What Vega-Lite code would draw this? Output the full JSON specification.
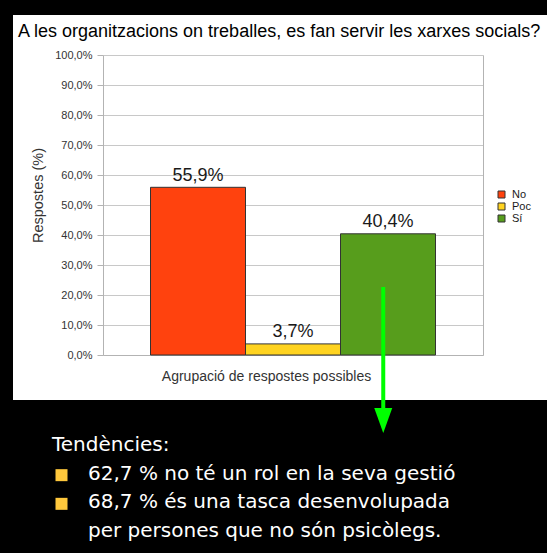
{
  "$schema": "https://vega.github.io/schema/vega-lite/v6.json",
  "background": "black",
  "padding": {"left": 13, "top": 15, "right": 0, "bottom": 0},
  "spacing": 0,
  "bounds": "flush",
  "config": {
    "view": {"stroke": null},
    "font": "Liberation Sans",
    "locale": {"number": {"decimal": ",", "thousands": ".", "grouping": [3], "currency": ["", " €"]}}
  },
  "vconcat": [
    {
      "width": 534,
      "height": 385,
      "view": {"fill": "white", "stroke": null},
      "title": {
        "text": "A les organitzacions on treballes, es fan servir les xarxes socials?",
        "anchor": "start",
        "frame": "group",
        "orient": "top",
        "offset": 0,
        "dx": 5,
        "dy": 40,
        "baseline": "alphabetic",
        "font": "Liberation Sans",
        "fontSize": 18,
        "fontWeight": "normal",
        "color": "#000000"
      },
      "data": {"values": [
        {"resposta": "No", "percentatge": 0.559},
        {"resposta": "Poc", "percentatge": 0.037},
        {"resposta": "Sí", "percentatge": 0.404}
      ]},
      "encoding": {
        "x": {
          "field": "resposta", "type": "nominal", "sort": ["No", "Poc", "Sí"],
          "scale": {"range": [90, 470], "paddingInner": 0, "paddingOuter": 0.5},
          "axis": {
            "orient": "bottom", "offset": -45, "labels": false, "ticks": false, "grid": false,
            "domain": true, "domainColor": "#b3b3b3",
            "title": "Agrupació de respostes possibles", "titleFontSize": 14, "titleFontWeight": "normal",
            "titleColor": "#333333", "titleX": 253, "titleY": 25, "titleAlign": "center", "titleBaseline": "alphabetic"
          }
        }
      },
      "layer": [
        {
          "mark": {"type": "bar", "stroke": "#333333", "strokeWidth": 1},
          "encoding": {
            "y": {
              "field": "percentatge", "type": "quantitative",
              "scale": {"domain": [0, 1], "range": [340, 40], "nice": false},
              "axis": {
                "orient": "left", "offset": -90,
                "values": [0, 0.1, 0.2, 0.3, 0.4, 0.5, 0.6, 0.7, 0.8, 0.9, 1],
                "format": ".1%", "labelFontSize": 11, "labelColor": "#333333", "labelPadding": 5,
                "tickSize": 6, "tickColor": "#b3b3b3", "domainColor": "#b3b3b3",
                "grid": true, "gridColor": "#c8c8c8",
                "title": "Respostes (%)", "titleFontSize": 14.5, "titleFontWeight": "normal", "titleColor": "#333333",
                "titleX": -58, "titleY": 180, "titleAngle": 270, "titleBaseline": "bottom", "titleAlign": "center"
              }
            },
            "color": {
              "field": "resposta", "type": "nominal",
              "scale": {"domain": ["No", "Poc", "Sí"], "range": ["#ff420e", "#ffd320", "#579d1c"]},
              "legend": {
                "orient": "none", "legendX": 483, "legendY": 174, "title": null,
                "symbolType": "square", "symbolSize": 49, "symbolStrokeColor": "#333333", "symbolStrokeWidth": 1,
                "labelFontSize": 11, "labelColor": "#1a1a1a", "rowPadding": 0, "labelOffset": 5, "padding": 0
              }
            }
          }
        },
        {
          "mark": {"type": "text", "dy": -6.5, "baseline": "alphabetic", "fontSize": 18, "color": "#1a1a1a"},
          "encoding": {
            "y": {
              "field": "percentatge", "type": "quantitative",
              "axis": {"orient": "right", "offset": -64, "labels": false, "ticks": false, "grid": false, "domain": true, "domainColor": "#b3b3b3", "title": null}
            },
            "text": {"field": "percentatge", "type": "quantitative", "format": ".1%"}
          }
        },
        {
          "data": {"values": [{}]},
          "mark": {"type": "rule", "color": "#00ff00", "strokeWidth": 4},
          "encoding": {
            "x": {"datum": "Sí", "bandPosition": 0.45},
            "y": {"datum": 0.227, "axis": null},
            "y2": {"datum": -0.218}
          }
        },
        {
          "data": {"values": [{}]},
          "mark": {"type": "point", "shape": "M -1 -1.39 L 1 -1.39 L 0 1.39 Z", "size": 324, "filled": true, "color": "#00ff00", "opacity": 1, "strokeWidth": 0},
          "encoding": {
            "x": {"datum": "Sí", "bandPosition": 0.45},
            "y": {"datum": -0.218, "axis": null}
          }
        }
      ],
      "resolve": {"axis": {"y": "independent"}}
    },
    {
      "width": 534,
      "height": 153,
      "view": {"stroke": null},
      "data": {"values": [
        {"linia": 1, "nivell": 0, "vinyeta": false, "text": "Tendències:"},
        {"linia": 2, "nivell": 1, "vinyeta": true, "text": "62,7 % no té un rol en la seva gestió"},
        {"linia": 3, "nivell": 1, "vinyeta": true, "text": "68,7 % és una tasca desenvolupada"},
        {"linia": 4, "nivell": 1, "vinyeta": false, "text": "per persones que no són psicòlegs."}
      ]},
      "encoding": {
        "x": {"field": "nivell", "type": "quantitative", "scale": {"domain": [0, 1], "range": [39, 75], "zero": false, "nice": false}, "axis": null},
        "y": {"field": "linia", "type": "ordinal", "scale": {"type": "point", "range": [51, 137], "padding": 0}, "axis": null}
      },
      "layer": [
        {
          "transform": [{"filter": "datum.vinyeta"}],
          "mark": {"type": "point", "shape": "square", "size": 144, "filled": true, "color": "#ffc83c", "opacity": 1, "xOffset": -26.5, "yOffset": -4.5}
        },
        {
          "mark": {"type": "text", "align": "left", "baseline": "alphabetic", "font": "DejaVu Sans", "fontSize": 20, "color": "#ffffff"},
          "encoding": {"text": {"field": "text", "type": "nominal"}}
        }
      ]
    }
  ]
}
